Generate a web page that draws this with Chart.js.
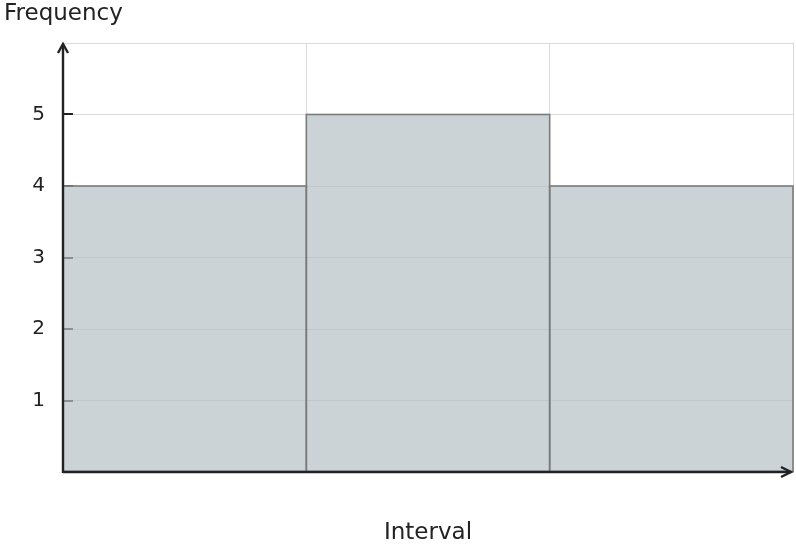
<!DOCTYPE html>
<html><head><meta charset="utf-8">
<script src="https://cdn.jsdelivr.net/npm/chart.js@4/dist/chart.umd.min.js"></script>
<style>html,body{margin:0;padding:0;background:#fff}#wrap{width:796px;height:548px}canvas{display:block}</style>
</head><body><div id="wrap"><canvas id="c" width="796" height="548"></canvas></div>
<script>
const categories = ['Interval 1', 'Interval 2', 'Interval 3'];
const frequencies = [4, 5, 4];
const yTicks = [1, 2, 3, 4, 5];
const yMax = 6;

const axisPlugin = {
  id: 'axisPlugin',
  beforeDatasetsDraw(chart) {
    const ctx = chart.ctx, a = chart.chartArea, y = chart.scales.y;
    ctx.save();
    ctx.strokeStyle = '#222';
    ctx.lineWidth = 2;
    yTicks.forEach(v => {
      const py = Math.round(y.getPixelForValue(v));
      ctx.beginPath(); ctx.moveTo(a.left, py); ctx.lineTo(a.left + 10, py); ctx.stroke();
    });
    ctx.restore();
  },
  afterDatasetsDraw(chart) {
    const ctx = chart.ctx, a = chart.chartArea;
    const meta = chart.getDatasetMeta(0);
    ctx.save();
    ctx.strokeStyle = '#7a7a7a';
    ctx.lineWidth = 1.6;
    meta.data.forEach(bar => {
      const left = bar.x - bar.width / 2;
      ctx.strokeRect(left, bar.y, bar.width, bar.base - bar.y);
    });
    ctx.strokeStyle = '#222';
    ctx.lineWidth = 2.4;
    ctx.lineCap = 'butt';
    // y axis
    ctx.beginPath(); ctx.moveTo(a.left, a.bottom + 1); ctx.lineTo(a.left, a.top + 1); ctx.stroke();
    ctx.beginPath(); ctx.moveTo(a.left - 5, a.top + 10); ctx.lineTo(a.left, a.top + 1); ctx.lineTo(a.left + 5, a.top + 10); ctx.stroke();
    // x axis
    ctx.beginPath(); ctx.moveTo(a.left, a.bottom); ctx.lineTo(a.right - 2, a.bottom); ctx.stroke();
    ctx.beginPath(); ctx.moveTo(a.right - 12, a.bottom - 5); ctx.lineTo(a.right - 2, a.bottom); ctx.lineTo(a.right - 12, a.bottom + 5); ctx.stroke();
    ctx.restore();
  }
};

new Chart(document.getElementById('c'), {
  type: 'bar',
  data: {
    labels: categories,
    datasets: [{
      data: frequencies,
      backgroundColor: 'rgba(182,192,196,0.7)',
      borderWidth: 0,
      categoryPercentage: 1,
      barPercentage: 1
    }]
  },
  options: {
    responsive: false,
    animation: false,
    devicePixelRatio: 1,
    layout: { padding: { left: 4, right: 3, top: 0, bottom: 0 } },
    plugins: {
      legend: { display: false },
      tooltip: { enabled: false },
      title: {
        display: true, text: 'Frequency', align: 'start', color: '#222',
        font: { family: 'DejaVu Sans', size: 23, weight: 'normal', lineHeight: 1.2 },
        padding: { top: 0, bottom: 15.4 }
      }
    },
    scales: {
      x: {
        grid: { offset: true, color: '#d9d9d9', lineWidth: 1, drawTicks: false },
        border: { display: false },
        ticks: { display: false },
        title: { display: true, text: 'Interval', color: '#222', font: { family: 'DejaVu Sans', size: 23, lineHeight: 1.2 }, padding: 1 },
        afterFit(s) { s.height = 76; }
      },
      y: {
        min: 0, max: yMax,
        grid: { color: '#d9d9d9', lineWidth: 1, drawTicks: false },
        border: { display: false },
        ticks: {
          stepSize: 1, padding: 18, color: '#222',
          font: { family: 'DejaVu Sans', size: 20 },
          callback: v => yTicks.includes(v) ? String(v) : ''
        },
        afterFit(s) { s.width = 59; }
      }
    }
  },
  plugins: [axisPlugin]
});
</script></body></html>
